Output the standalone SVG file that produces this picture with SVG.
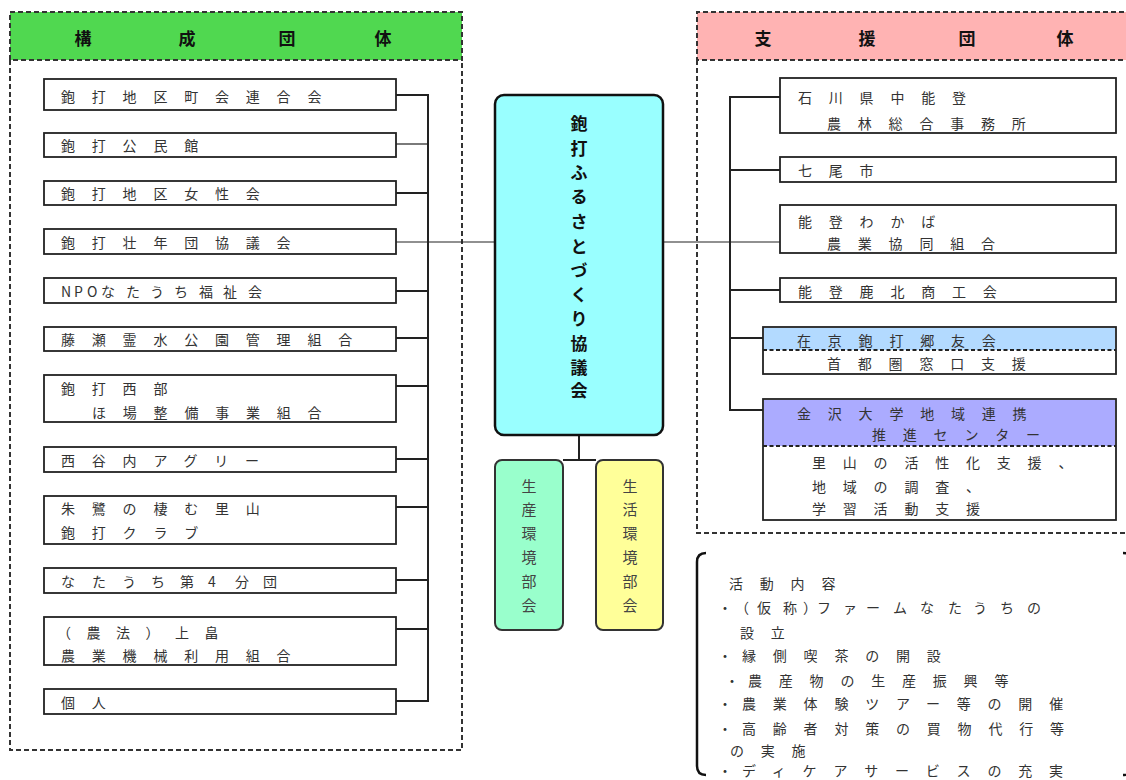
<svg xmlns="http://www.w3.org/2000/svg" width="1126" height="780" viewBox="0 0 1126 780">
<style>
text{font-family:"Noto Sans CJK JP","Noto Sans",sans-serif;dominant-baseline:central}
.t{font-size:14px;fill:#333;letter-spacing:16.8px}
.b{font-size:14px;fill:#333}
.h{font-size:17px;font-weight:bold;fill:#111;text-anchor:middle}
.v{font-size:17px;font-weight:bold;fill:#111;text-anchor:middle}
.sv{font-size:15px;fill:#444;text-anchor:middle}
.box{fill:#fff;stroke:#222;stroke-width:1.8}
.dash{fill:none;stroke:#333;stroke-width:2;stroke-dasharray:5 3}
.ln{fill:none;stroke:#222;stroke-width:2}
.thin{fill:none;stroke:#222;stroke-width:1.2}
</style>
<rect width="1126" height="780" fill="#fff"/>

<g id="panel-left">
<rect x="10" y="12" width="452" height="48" fill="#50D850"/>
<path class="dash" d="M10 60 V12 H462 V60 Z M10 60 V750 H462 V60"/>
<text class="h" x="83 187 287 383" y="37">構成団体</text>
</g>

<g id="panel-right">
<rect x="697" y="12" width="440" height="48" fill="#FFB3B3"/>
<path class="dash" d="M1140 12 H697 V60 H1140 M697 60 V533 H1140"/>
<text class="h" x="763 867 967 1065" y="37">支援団体</text>
</g>

<g id="connectors">
<path class="ln" d="M396 95 H428 V701 H396 M396 193 H428 M396 291 H428 M396 338 H428 M396 386 H428 M396 459 H428 M396 507 H428 M396 580 H428 M396 629 H428"/>
<path class="thin" d="M396 144 H428"/>
<path class="thin" d="M396 242 H495 M663 242 H780"/>
<path class="ln" d="M780 97 H730 V410 H763 M730 170 H780 M730 290 H780 M730 338 H763"/>
<path class="ln" d="M579 435 V460 M563 460 H596"/>
</g>

<g id="n1"><rect class="box" x="44" y="79" width="352" height="31"/><text class="t" x="61" y="96">鉋打地区町会連合会</text></g>
<g id="n2"><rect class="box" x="44" y="133" width="352" height="24"/><text class="t" x="61" y="145">鉋打公民館</text></g>
<g id="n3"><rect class="box" x="44" y="181" width="352" height="24"/><text class="t" x="61" y="193">鉋打地区女性会</text></g>
<g id="n4"><rect class="box" x="44" y="229" width="352" height="25"/><text class="t" x="61" y="242">鉋打壮年団協議会</text></g>
<g id="n5"><rect class="box" x="44" y="278" width="352" height="25"/><text class="b" x="61 74 87 101 126 150 174 199 223 248" y="291">NPOなたうち福祉会</text></g>
<g id="n6"><rect class="box" x="44" y="327" width="352" height="24"/><text class="t" x="61" y="339">藤瀬霊水公園管理組合</text></g>
<g id="n7"><rect class="box" x="44" y="375" width="352" height="47"/><text class="t" x="61" y="388">鉋打西部</text><text class="t" x="92" y="412">ほ場整備事業組合</text></g>
<g id="n8"><rect class="box" x="44" y="447" width="352" height="25"/><text class="t" x="61" y="460">西谷内アグリー</text></g>
<g id="n9"><rect class="box" x="44" y="496" width="352" height="48"/><text class="t" x="61" y="508">朱鷺の棲む里山</text><text class="t" x="61" y="532">鉋打クラブ</text></g>
<g id="n10"><rect class="box" x="44" y="568" width="352" height="25"/><text class="b" x="61 92 122 151 180 208 235 263" y="581">なたうち第4分団</text></g>
<g id="n11"><rect class="box" x="44" y="617" width="352" height="48"/><text class="t" style="letter-spacing:15.5px" x="57" y="632">（農法）上畠</text><text class="t" x="61" y="655">農業機械利用組合</text></g>
<g id="n12"><rect class="box" x="44" y="689" width="352" height="25"/><text class="t" x="61" y="702">個人</text></g>

<g id="main">
<rect x="495" y="95" width="168" height="340" rx="9" fill="#99FFFF" stroke="#111" stroke-width="2.5"/>
<text class="v" x="579 579 579 579 579 579 579 579 579 579 579 579" y="122 147 171 195 220 245 269 293 317 342 366 389">鉋打ふるさとづくり協議会</text>
</g>

<g id="sub1">
<rect x="495" y="460" width="68" height="170" rx="7" fill="#99FFCC" stroke="#333" stroke-width="2"/>
<text class="sv" x="529 529 529 529 529 529" y="485 508 532 556 580 604">生産環境部会</text>
</g>
<g id="sub2">
<rect x="596" y="460" width="67" height="170" rx="7" fill="#FFFF99" stroke="#333" stroke-width="2"/>
<text class="sv" x="630 630 630 630 630 630" y="485 508 532 556 580 604">生活環境部会</text>
</g>

<g id="r1"><rect class="box" x="780" y="78" width="336" height="55"/><text class="t" x="798" y="97">石川県中能登</text><text class="t" x="827" y="123">農林総合事務所</text></g>
<g id="r2"><rect class="box" x="780" y="157" width="336" height="25"/><text class="t" x="798" y="170">七尾市</text></g>
<g id="r3"><rect class="box" x="780" y="205" width="336" height="48"/><text class="t" x="798" y="221">能登わかば</text><text class="t" x="827" y="243">農業協同組合</text></g>
<g id="r4"><rect class="box" x="780" y="278" width="336" height="24"/><text class="t" x="798" y="291">能登鹿北商工会</text></g>
<g id="r5">
<rect class="box" x="763" y="327" width="353" height="47"/>
<rect x="764" y="328" width="351" height="22" fill="#B3DAFF"/>
<path d="M763 350 H1116" stroke="#222" stroke-width="2" stroke-dasharray="4 2.5"/>
<text class="t" x="797" y="340">在京鉋打郷友会</text><text class="t" x="827" y="363">首都圏窓口支援</text>
</g>
<g id="r6">
<rect class="box" x="763" y="399" width="353" height="121"/>
<rect x="764" y="400" width="351" height="46" fill="#ABABFF"/>
<path d="M763 446 H1116" stroke="#222" stroke-width="2" stroke-dasharray="4 2.5"/>
<text class="t" x="797" y="413">金沢大学地域連携</text><text class="t" x="872" y="434">推進センター</text>
<text class="t" x="812" y="462">里山の活性化支援、</text><text class="t" x="812" y="486">地域の調査、</text><text class="t" x="812" y="508">学習活動支援</text>
</g>

<g id="activities">
<path d="M706 553 Q697 553 697 562 V766 Q697 775 706 775" fill="none" stroke="#111" stroke-width="2.5"/>
<path d="M1123 553 Q1132 553 1132 562 V766 Q1132 775 1123 775" fill="none" stroke="#111" stroke-width="2.5"/>
<text class="t" x="729" y="583">活動内容</text>
<text class="b" x="718 735 757 783 803 817 843 866 893 920 948 973 1000 1027 1055 1083" y="607">・（仮称）ファームなたうちの</text>
<text class="t" x="740" y="632">設立</text>
<text class="b" x="718" y="655">・</text><text class="t" x="742" y="655">縁側喫茶の開設</text>
<text class="b" x="725" y="680">・</text><text class="t" x="748" y="680">農産物の生産振興等</text>
<text class="b" x="718" y="703">・</text><text class="t" x="742" y="703">農業体験ツアー等の開催</text>
<text class="b" x="718" y="728">・</text><text class="t" x="742" y="728">高齢者対策の買物代行等</text>
<text class="t" x="730" y="750">の実施</text>
<text class="b" x="718" y="770">・</text><text class="t" x="742" y="770">ディケアサービスの充実</text>
</g>
</svg>
